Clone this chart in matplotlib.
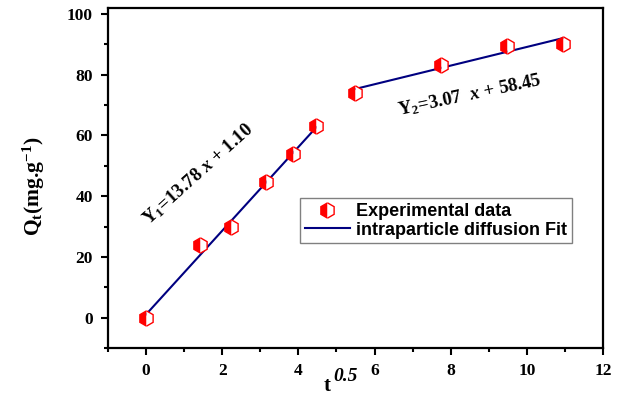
import numpy as np
import matplotlib; matplotlib.use('Agg')
import matplotlib.pyplot as plt
from matplotlib.ticker import MultipleLocator

# 데이터
t_sqrt = [0.0, 1.41, 2.24, 3.16, 3.87, 4.47, 5.48, 7.75, 9.49, 10.95]
q_t = [0.0, 23.8, 29.8, 44.6, 53.8, 63.0, 74.0, 83.3, 89.3, 90.2]

fit1_x = [0.0, 4.47]
fit1_slope, fit1_icpt = 13.78, 1.10
fit2_x = [5.48, 10.95]
fit2_slope, fit2_icpt = 3.07, 58.45

SERIF = 'Liberation Serif'
SANS = 'Liberation Sans'
plt.rcParams['mathtext.fontset'] = 'custom'
plt.rcParams['mathtext.rm'] = 'Liberation Serif:bold'
plt.rcParams['mathtext.bf'] = 'Liberation Serif:bold'
plt.rcParams['mathtext.it'] = 'Liberation Serif:italic:bold'

fig = plt.figure(figsize=(6.21, 3.96), dpi=100)
ax = fig.add_axes([0.174, 0.121, 0.797, 0.859])

# fit lines
x1 = np.array(fit1_x)
x2 = np.array(fit2_x)
ax.plot(x1, fit1_slope * x1 + fit1_icpt, color='#000080', lw=1.5, zorder=2)
ax.plot(x2, fit2_slope * x2 + fit2_icpt, color='#000080', lw=1.5, zorder=2,
        label='intraparticle diffusion Fit')

# 실험 데이터 - 반쪽 채운 육각형
ax.plot(t_sqrt, q_t, ls='none', marker='h', ms=11, fillstyle='left',
        markerfacecolor='red', markerfacecoloralt='white',
        markeredgecolor='red', markeredgewidth=1.0, zorder=3,
        label='Experimental data')

ax.set_xlim(-1, 12)
ax.set_ylim(-10, 102)
ax.xaxis.set_major_locator(MultipleLocator(2))
ax.xaxis.set_minor_locator(MultipleLocator(1))
ax.yaxis.set_major_locator(MultipleLocator(20))
ax.yaxis.set_minor_locator(MultipleLocator(10))
ax.tick_params(which='both', direction='out', width=1.5, top=False, right=False)
ax.tick_params(which='major', length=5, labelsize=12.5, pad=6)
ax.tick_params(which='minor', length=3)
for lab in ax.get_xticklabels() + ax.get_yticklabels():
    lab.set_fontfamily(SERIF)
    lab.set_fontweight('bold')
for sp in ax.spines.values():
    sp.set_linewidth(1.6)

# 축 라벨
ax.set_ylabel(r'Q$_\mathrm{t}$(mg.g$^{\mathrm{-1}}$)', fontsize=15.5,
              fontfamily=SERIF, fontweight='bold')
ax.yaxis.set_label_coords(-0.123, 0.475)
ax.text(0.442, -0.11, 't', transform=ax.transAxes, fontsize=15,
        fontfamily=SERIF, fontweight='bold', ha='center', va='center')
ax.text(0.48, -0.085, '0.5', transform=ax.transAxes, fontsize=14,
        fontfamily=SERIF, fontweight='bold', style='italic',
        ha='center', va='center')

# 식 표기
ax.text(1.37, 47.3, r'$\mathrm{Y}_1$=13.78 $x$ + 1.10', fontsize=13.5,
        fontfamily=SERIF, fontweight='bold', rotation=42,
        rotation_mode='anchor', ha='center', va='center')
ax.text(8.5, 73.3, r'$\mathrm{Y}_2$=3.07  $x$ + 58.45', fontsize=13.5,
        fontfamily=SERIF, fontweight='bold', rotation=12,
        rotation_mode='anchor', ha='center', va='center')

handles, labels = ax.get_legend_handles_labels()
leg = ax.legend(handles[::-1], labels[::-1], loc='upper left',
                bbox_to_anchor=(0.388, 0.44), fancybox=False,
                edgecolor='#808080', framealpha=1, borderpad=0.25,
                handlelength=2.5, handletextpad=0.35, labelspacing=0.1,
                borderaxespad=0,
                prop={'family': SANS, 'weight': 'bold', 'size': 13})
leg.get_frame().set_linewidth(1.0)

fig.savefig('out.png', dpi=100)
